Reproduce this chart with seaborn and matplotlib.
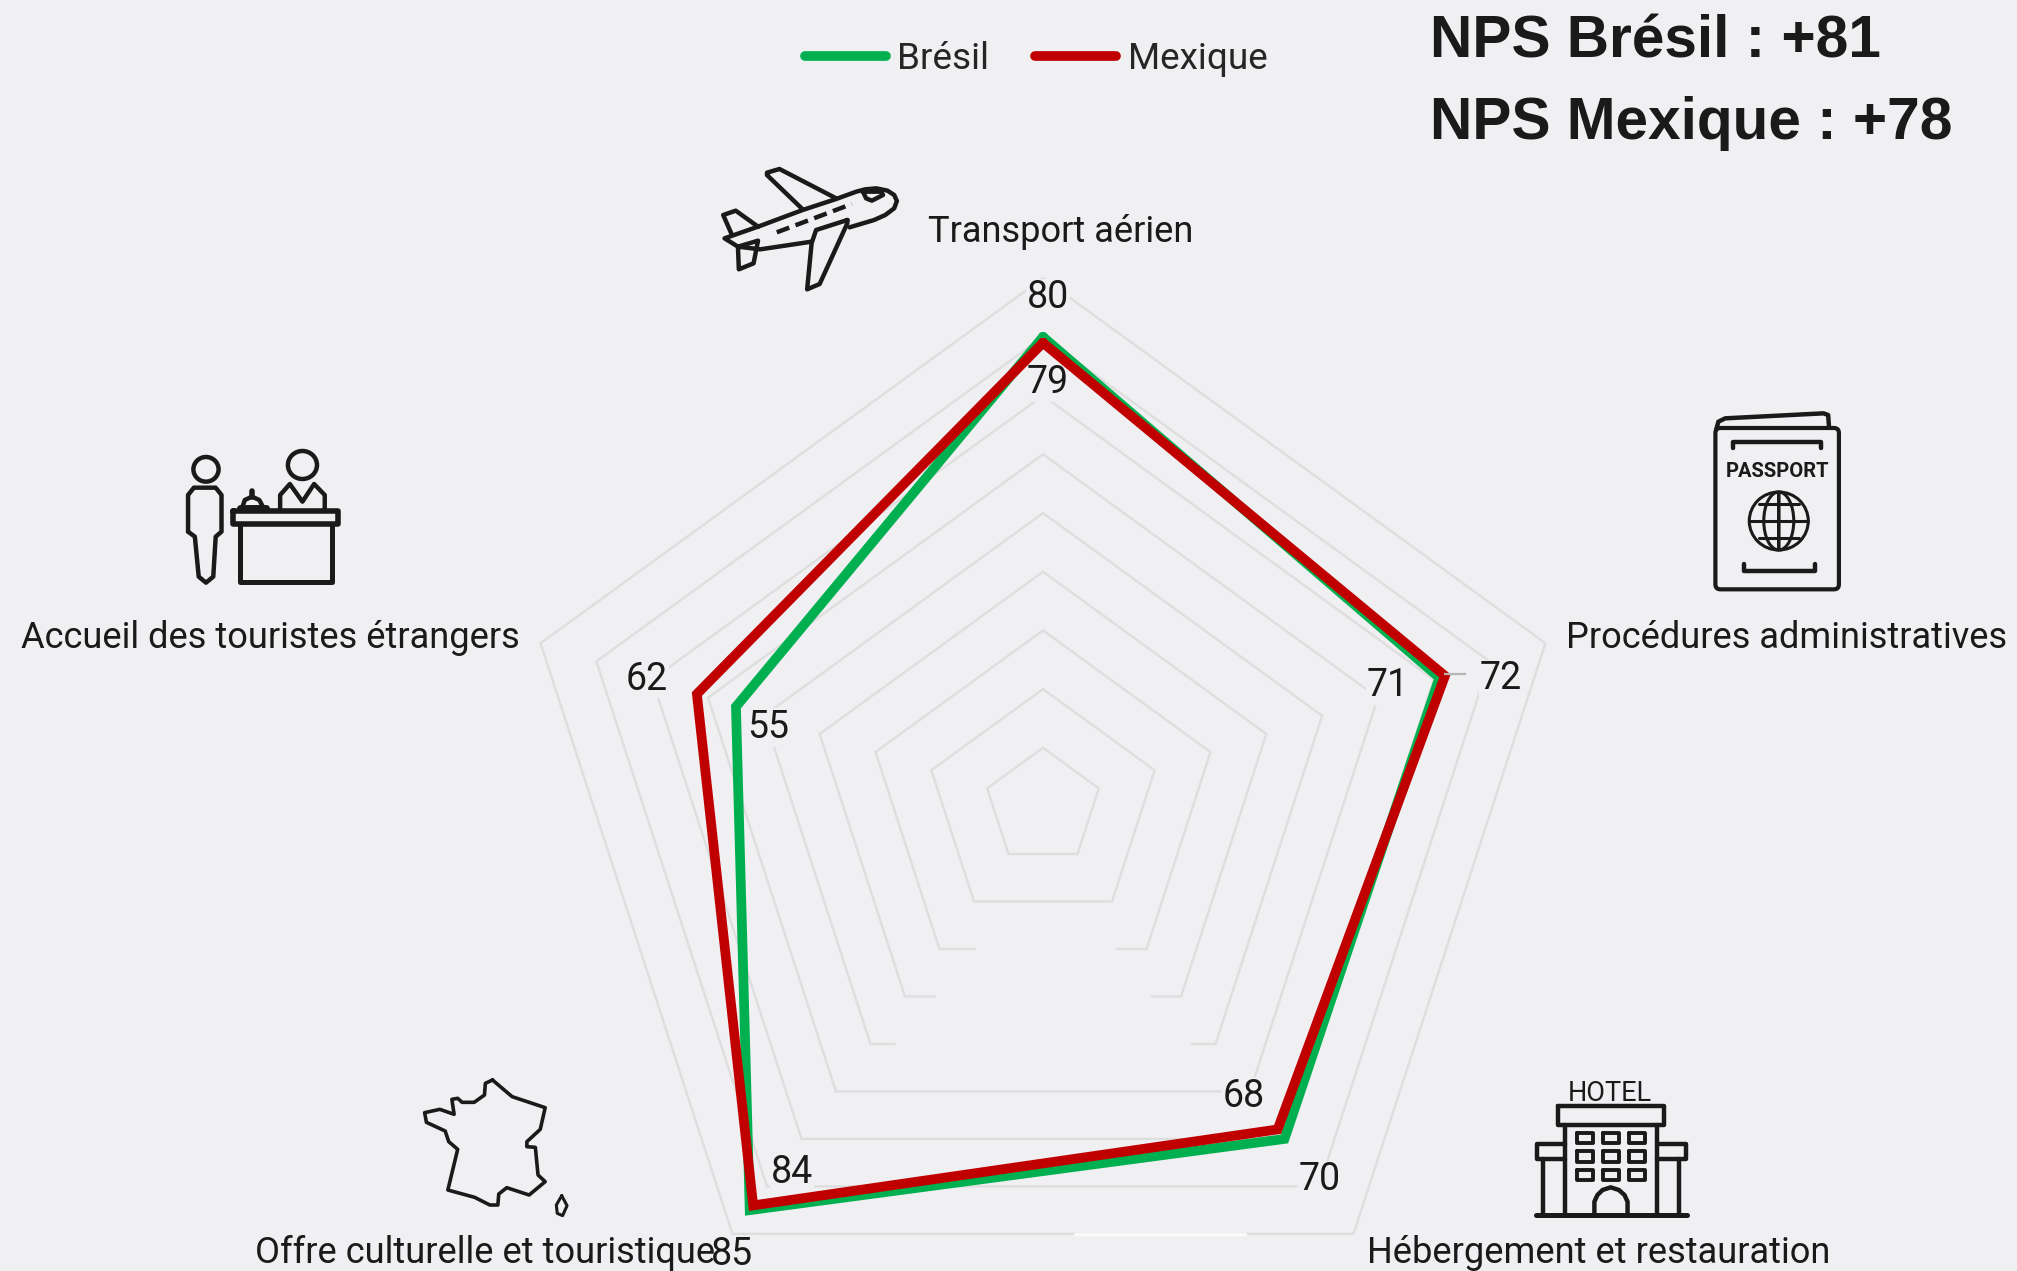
import numpy as np
import pandas as pd
import matplotlib
matplotlib.use("Agg")
import matplotlib.pyplot as plt
from matplotlib.patches import Ellipse, FancyBboxPatch
import seaborn as sns

W, H = 2017, 1271
BG = "#F0F0F3"
INK = "#1A1A1A"
GRID = "#DEDEDF"
GREEN = "#00B050"
RED = "#C00000"
FONT = ["Roboto", "DejaVu Sans"]

categories = ["Transport aérien", "Procédures administratives", "Hébergement et restauration",
              "Offre culturelle et touristique", "Accueil des touristes étrangers"]
bresil = [80, 71, 70, 85, 55]
mexique = [79, 72, 68, 84, 62]
rings = [10, 20, 30, 40, 50, 60, 70, 80, 90]
titles = ["NPS Brésil : +81", "NPS Mexique : +78"]

sns.set_theme(style="white", rc={"figure.facecolor": BG, "axes.facecolor": "none",
                                 "lines.solid_capstyle": "round", "lines.solid_joinstyle": "miter"})
plt.rcParams["font.family"] = FONT

fig = plt.figure(figsize=(W / 100, H / 100), dpi=100, facecolor=BG)
CX, CY, RMAX = 1043.0, 806.5, 528.3
ax = fig.add_axes([(CX - RMAX) / W, 1 - (CY + RMAX) / H, 2 * RMAX / W, 2 * RMAX / H], projection="polar")
ax.set_theta_zero_location("N")
ax.set_theta_direction(-1)
ax.set_ylim(0, 90)
ax.grid(False)
ax.spines["polar"].set_visible(False)
ax.patch.set_visible(False)

theta = np.deg2rad(np.arange(0, 361, 72))
for r in rings:
    ax.plot(theta, [r] * len(theta), color=GRID, lw=1.7, zorder=1, solid_joinstyle="miter", clip_on=False)

df = pd.DataFrame({
    "theta": np.r_[theta, theta],
    "value": bresil + bresil[:1] + mexique + mexique[:1],
    "Pays": ["Brésil"] * 6 + ["Mexique"] * 6,
})
sns.lineplot(data=df, x="theta", y="value", hue="Pays", palette={"Brésil": GREEN, "Mexique": RED},
             sort=False, estimator=None, lw=7, ax=ax, zorder=4, legend=True)
ax.set_xlabel("")
ax.set_ylabel("")
ax.set_xticks([])
ax.set_yticks([])
sns.move_legend(ax, "center", bbox_to_anchor=(1036 / W, 1 - 59 / H), bbox_transform=fig.transFigure,
                ncol=2, title=None, frameon=False, fontsize=26.6, handlelength=2.2, handletextpad=0.3,
                columnspacing=1.25, borderpad=0, borderaxespad=0)

# value labels, offset from their vertices (pixels)
off_b = [(5, 39), (-52, -8), (35.5, -41), (-18, -44), (32, -21)]
off_m = [(5, -40), (56, -3), (-33.6, 33), (39, 33), (-50, 15)]
for vals, offs in ((bresil, off_b), (mexique, off_m)):
    for t, v, o in zip(theta[:5], vals, offs):
        ax.annotate(str(v), xy=(t, v), xytext=o, textcoords="offset pixels", ha="center", va="center",
                    fontsize=27, color="none", zorder=2, annotation_clip=False,
                    bbox=dict(boxstyle="square,pad=0.02", fc=BG, ec="none"))
        ax.annotate(str(v), xy=(t, v), xytext=o, textcoords="offset pixels", ha="center", va="center",
                    fontsize=27, color=INK, zorder=5, annotation_clip=False)

# overlay in pixel coordinates for texts and pictograms
ov = fig.add_axes([0, 0, 1, 1], zorder=3)
ov.set_xlim(0, W)
ov.set_ylim(H, 0)
ov.axis("off")

# fading of the ring bottoms in the source image
for x0, x1, y in [(975, 1115, 949), (935, 1150, 997), (895, 1190, 1044)]:
    ov.plot([x0, x1], [y, y], color=BG, lw=3.5, zorder=0, solid_capstyle="butt")
ov.plot([1075, 1245], [1234, 1234], color="white", lw=2.5, alpha=0.8, zorder=0)
ov.plot([1444, 1466], [674, 674], color="#B5B5B5", lw=1.6, zorder=0, solid_capstyle="butt")

label_pos = [(1061, 242), (1787, 648), (1599, 1263), (485, 1263), (270, 648)]
for c, (x, y) in zip(categories, label_pos):
    ov.text(x, y, c, ha="center", va="baseline", fontsize=26.1, color=INK)

for t, y in zip(titles, (58, 139)):
    ov.text(1430, y, t, ha="left", va="baseline", fontsize=42.2, fontweight="bold", color=INK,
            family=["Liberation Sans", "DejaVu Sans"])


def stroke(pts, ox, oy, sx, sy, lw=3.2, **kw):
    p = np.array(pts, float)
    ov.plot(ox + p[:, 0] / sx, oy + p[:, 1] / sy, color=INK, lw=lw, solid_joinstyle="round",
            solid_capstyle="round", **kw)


# plane
P = dict(ox=700, oy=0, sx=2.24, sy=3)
stroke([(130, 680), (230, 630), (305, 597), (350, 575), (370, 568), (395, 565), (420, 572), (435, 585), (441, 603),
        (435, 625), (415, 645), (390, 660), (335, 682)], **P)
stroke([(250, 725), (135, 748), (85, 740), (55, 715), (130, 680)], **P)
stroke([(230, 628), (150, 525), (150, 518), (178, 507), (305, 595)], **P)
stroke([(330, 660), (260, 690), (250, 730), (240, 868), (268, 852), (330, 670), (330, 660)], **P)
stroke([(70, 700), (52, 645), (80, 632), (130, 680)], **P)
stroke([(85, 740), (130, 722), (120, 790), (87, 808), (85, 740)], **P)
stroke([(365, 575), (405, 575), (410, 585), (385, 602), (372, 595), (365, 575)], **P)
stroke([(172, 697), (340, 612)], linestyle=(0, (3, 1.5)), **P)

# passport
P = dict(ox=1300, oy=380, sx=1568 / 717, sy=3)
ov.add_patch(FancyBboxPatch((1300 + 915 / P["sx"], 380 + 153 / 3), 257 / P["sx"], 466 / 3,
                            boxstyle="round,pad=3,rounding_size=5", fc="none", ec=INK, lw=3))
stroke([(910, 150), (915, 125), (930, 115), (1145, 100), (1155, 105), (1157, 143)], **P)
stroke([(947, 205), (947, 185), (1140, 185), (1140, 205)], **P)
stroke([(970, 552), (970, 572), (1127, 572), (1127, 552)], **P)
ov.text(1300 + 1044 / P["sx"], 380 + 292 / 3, "PASSPORT", ha="center", va="baseline", fontsize=14.5,
        fontweight="bold", color=INK, family=["Roboto"])
gx, gy = 1300 + 1047 / P["sx"], 380 + 423 / 3
for rx in (59, 30, 0.01):
    ov.add_patch(Ellipse((gx, gy), rx, 58, fc="none", ec=INK, lw=2.2))
stroke([(985, 423), (1110, 423)], lw=2.2, **P)
stroke([(1003, 372), (1092, 372)], lw=2.2, **P)
stroke([(1003, 475), (1092, 475)], lw=2.2, **P)

# reception desk
P = dict(ox=0, oy=420, sx=1568 / 760, sy=3)
sx = P["sx"]
ov.add_patch(Ellipse((425 / sx, 420 + 148 / 3), 52 / sx, 74 / 3, fc="none", ec=INK, lw=3.2))
ov.add_patch(Ellipse((624 / sx, 420 + 135 / 3), 60 / sx, 84 / 3, fc="none", ec=INK, lw=3.2))
stroke([(388, 335), (388, 225), (400, 203), (445, 203), (457, 225), (457, 335), (445, 350), (440, 470),
        (425, 488), (410, 470), (402, 350), (388, 335)], **P)
stroke([(480, 272), (698, 272), (698, 312), (480, 312), (480, 272)], lw=4, **P)
stroke([(495, 312), (495, 487), (684, 487), (684, 312)], lw=3.6, **P)
stroke([(578, 268), (578, 225), (598, 192), (624, 245), (648, 192), (670, 225), (670, 268)], **P)
stroke([(495, 265), (548, 265)], lw=5, **P)
stroke([(500, 262), (505, 240), (520, 230), (535, 240), (543, 262)], **P)
stroke([(520, 212), (520, 230)], lw=4, **P)

# France
P = dict(ox=230, oy=1040, sx=2.24, sy=3)
stroke([(588, 120), (632, 170), (706, 203), (695, 268), (665, 305), (665, 320), (684, 322), (690, 405),
        (706, 425), (670, 465), (620, 443), (602, 462), (600, 495), (582, 495), (548, 472), (488, 450),
        (510, 328), (490, 305), (482, 273), (440, 247), (436, 218), (470, 208), (502, 223), (497, 178),
        (510, 175), (520, 187), (547, 187), (570, 165), (572, 130), (588, 120)], lw=2.6, **P)
stroke([(743, 467), (755, 497), (745, 527), (733, 520), (731, 495), (743, 467)], lw=2.2, **P)

# hotel
P = dict(ox=1100, oy=1040, sx=1.96, sy=3)
ov.text(1100 + 1000 / 1.96, 1040 + 182 / 3, "HOTEL", ha="center", va="baseline", fontsize=19.5, color=INK)
stroke([(898, 198), (1105, 198), (1105, 255), (898, 255), (898, 198)], **P)
stroke([(912, 255), (912, 522)], **P)
stroke([(1092, 255), (1092, 522)], **P)
stroke([(912, 313), (856, 313), (856, 358), (912, 358)], **P)
stroke([(1092, 313), (1148, 313), (1148, 358), (1092, 358)], **P)
stroke([(868, 358), (868, 522)], **P)
stroke([(1135, 358), (1135, 522)], **P)
stroke([(855, 524), (1150, 524)], lw=3.6, **P)
for wx in (950, 1001, 1052):
    for wy in (294, 350, 405):
        stroke([(wx - 16, wy - 16), (wx + 16, wy - 16), (wx + 16, wy + 16), (wx - 16, wy + 16), (wx - 16, wy - 16)],
               lw=2.8, **P)
stroke([(969, 522), (969, 485), (975, 465), (985, 450), (1001, 442), (1017, 450), (1028, 465), (1034, 485), (1034, 522)], **P)

fig.savefig("out.png", dpi=100, facecolor=BG)
